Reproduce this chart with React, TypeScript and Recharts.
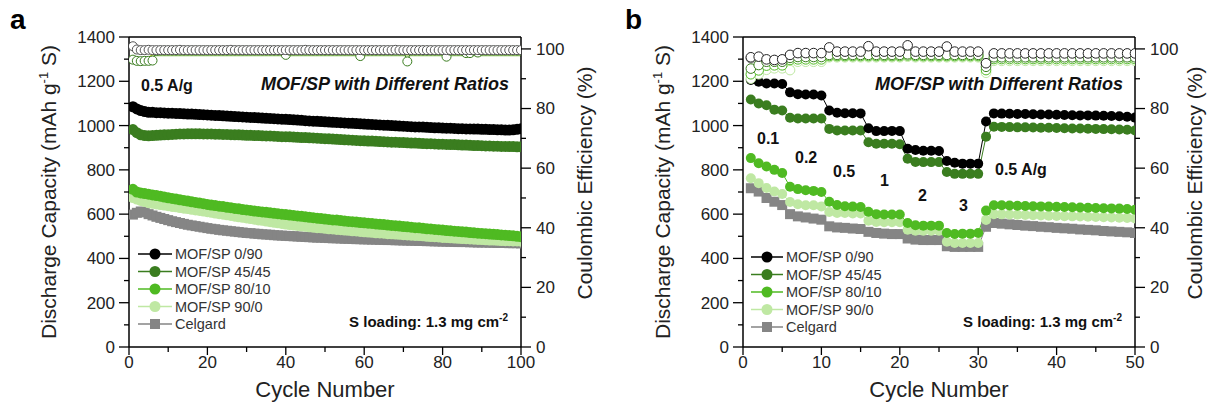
import React from "react";
import { ComposedChart, Line, XAxis, YAxis, Legend, ReferenceLine } from "recharts";

const FONT = '"Liberation Sans", Arial, sans-serif';
const BLACK = "#000000";
const DKGREEN = "#3a7d1f";
const GREEN = "#4fba22";
const LTGREEN = "#bfe8a3";
const GRAY = "#858585";

// ---- panel a: 100 cycles at 0.5 A/g ----
const capA_0_90 = [
  1085, 1075, 1068, 1063, 1060, 1060, 1058, 1058, 1057, 1056,
  1056, 1055, 1054, 1053, 1052, 1052, 1051, 1050, 1049, 1048,
  1047, 1046, 1045, 1044, 1043, 1042, 1041, 1040, 1039, 1038,
  1037, 1036, 1035, 1034, 1033, 1032, 1031, 1030, 1029, 1028,
  1027, 1026, 1025, 1024, 1022, 1021, 1020, 1019, 1018, 1017,
  1016, 1015, 1014, 1013, 1012, 1011, 1010, 1009, 1008, 1007,
  1006, 1005, 1004, 1003, 1002, 1001, 1000, 999, 998, 997,
  996, 995, 994, 994, 993, 992, 991, 990, 990, 989,
  988, 988, 987, 986, 986, 985, 985, 984, 984, 983,
  983, 982, 982, 981, 981, 980, 980, 981, 983, 986,
];
const capA_45_45 = [
  982, 968, 958, 955, 954, 955, 956, 957, 958, 959,
  960, 961, 962, 962, 963, 963, 963, 963, 962, 962,
  962, 961, 961, 960, 960, 959, 958, 958, 957, 956,
  956, 955, 955, 954, 953, 953, 952, 951, 950, 950,
  949, 948, 947, 946, 946, 945, 944, 943, 942, 941,
  940, 939, 938, 937, 936, 935, 934, 933, 932, 931,
  930, 930, 929, 928, 927, 926, 925, 925, 924, 923,
  922, 921, 921, 920, 919, 918, 918, 917, 916, 916,
  915, 914, 914, 913, 912, 912, 911, 910, 910, 909,
  908, 908, 907, 907, 906, 906, 905, 905, 904, 904,
];
const capA_80_10 = [
  712, 700, 696, 693, 690, 687, 684, 681, 677, 674,
  671, 668, 665, 662, 659, 656, 653, 650, 647, 644,
  641, 639, 636, 634, 631, 629, 626, 624, 621, 619,
  617, 614, 612, 610, 608, 606, 604, 602, 600, 598,
  596, 594, 592, 590, 588, 586, 584, 582, 580, 578,
  576, 574, 573, 571, 569, 567, 566, 564, 562, 561,
  559, 558, 556, 554, 553, 551, 549, 548, 546, 544,
  543, 541, 539, 538, 536, 534, 533, 531, 530, 528,
  526, 525, 523, 522, 520, 519, 517, 516, 514, 513,
  512, 510, 509, 508, 506, 505, 503, 502, 500, 498,
];
const capA_90_0 = [
  675, 668, 662, 657, 652, 649, 646, 643, 641, 638,
  635, 633, 630, 627, 625, 622, 619, 617, 614, 611,
  608, 605, 602, 600, 597, 594, 591, 588, 586, 583,
  580, 577, 574, 572, 569, 566, 563, 561, 558, 555,
  553, 551, 549, 547, 545, 543, 541, 539, 538, 536,
  534, 533, 531, 530, 528, 527, 525, 524, 522, 520,
  519, 518, 516, 515, 514, 512, 511, 510, 509, 507,
  506, 505, 504, 503, 502, 500, 499, 498, 497, 495,
  494, 493, 492, 491, 490, 489, 488, 487, 486, 485,
  484, 483, 483, 482, 481, 480, 480, 479, 479, 478,
];
const capA_celgard = [
  598, 606, 612, 608, 600, 594, 588, 583, 578, 573,
  568, 564, 560, 556, 552, 549, 546, 543, 540, 537,
  534, 532, 529, 527, 525, 523, 521, 519, 517, 515,
  514, 512, 511, 509, 508, 507, 505, 504, 503, 502,
  501, 500, 499, 498, 497, 496, 495, 494, 494, 493,
  492, 491, 491, 490, 489, 489, 488, 487, 487, 486,
  486, 485, 485, 484, 484, 483, 483, 482, 482, 481,
  481, 480, 480, 479, 479, 478, 478, 477, 477, 476,
  476, 475, 475, 474, 474, 474, 473, 473, 472, 472,
  472, 471, 471, 470, 470, 470, 469, 469, 469, 468,
];
const ceA_0_90 = [
  100.9, 99.8, 99.6, 99.6, 99.7, 99.6, 99.6, 99.6, 99.6, 99.6,
  99.6, 99.6, 99.7, 99.6, 99.6, 99.6, 99.6, 99.6, 99.6, 99.6,
  99.6, 99.6, 99.6, 99.6, 99.6, 99.7, 99.6, 99.6, 99.6, 99.6,
  99.6, 99.6, 99.6, 99.6, 99.6, 99.6, 99.6, 99.6, 99.6, 99.6,
  99.6, 99.6, 99.6, 99.6, 99.7, 99.6, 99.6, 99.6, 99.6, 99.6,
  99.6, 99.6, 99.6, 99.6, 99.6, 99.6, 99.6, 99.6, 99.6, 99.6,
  99.6, 99.6, 99.6, 99.6, 99.6, 99.6, 99.6, 99.7, 99.6, 99.6,
  99.6, 99.6, 99.6, 99.6, 99.6, 99.6, 99.6, 99.6, 99.6, 99.6,
  99.6, 99.6, 99.6, 99.6, 99.6, 99.6, 99.6, 99.6, 99.6, 99.6,
  99.6, 99.6, 99.6, 99.6, 99.6, 99.6, 99.6, 99.6, 99.6, 99.6,
];
const ceA_45_45 = [
  96.4, 96.0, 95.9, 96.0, 96.0, 96.1, 99.3, 99.4, 99.4, 99.4,
  99.4, 99.4, 99.4, 99.4, 99.4, 99.4, 99.4, 99.4, 99.4, 99.4,
  99.4, 99.4, 99.4, 99.4, 99.4, 99.4, 99.4, 99.4, 99.4, 99.4,
  99.4, 99.4, 99.4, 99.4, 99.4, 99.4, 99.4, 99.4, 99.4, 98.0,
  99.4, 99.4, 99.4, 99.4, 99.4, 99.4, 99.4, 99.4, 99.4, 99.4,
  99.4, 99.4, 99.4, 99.4, 99.4, 99.4, 99.4, 99.4, 97.6, 99.4,
  99.4, 99.4, 99.4, 99.4, 99.4, 99.4, 99.4, 99.4, 99.4, 99.4,
  95.8, 99.4, 99.4, 99.4, 99.4, 99.4, 99.4, 99.4, 99.4, 99.4,
  97.4, 99.4, 99.4, 99.4, 99.4, 98.6, 98.6, 99.4, 98.8, 99.4,
  99.4, 99.4, 99.4, 99.4, 99.4, 99.4, 99.4, 99.4, 99.4, 99.4,
];
const ceA_80_10 = [
  96.9, 96.8, 96.8, 96.9, 97.2, 98.1, 98.1, 98.1, 98.1, 98.1,
  98.1, 98.1, 98.1, 98.1, 98.1, 98.1, 98.1, 98.1, 98.1, 98.1,
  98.1, 98.1, 98.1, 98.1, 98.1, 98.1, 98.1, 98.1, 98.1, 98.1,
  98.1, 98.1, 98.1, 98.1, 98.1, 98.1, 98.1, 98.1, 98.1, 98.1,
  98.1, 98.1, 98.1, 98.1, 98.1, 98.1, 98.1, 98.1, 98.1, 98.1,
  98.1, 98.1, 98.1, 98.1, 98.1, 98.1, 98.1, 98.1, 98.1, 98.1,
  98.1, 98.1, 98.1, 98.1, 98.1, 98.1, 98.1, 98.1, 98.1, 98.1,
  98.1, 98.1, 98.1, 98.1, 98.1, 98.1, 98.1, 98.1, 98.1, 98.1,
  98.1, 98.1, 98.1, 98.1, 98.1, 98.1, 98.1, 98.1, 98.1, 98.1,
  98.1, 98.1, 98.1, 98.1, 98.1, 98.1, 98.1, 98.1, 98.1, 98.1,
];
const ceA_90_0 = [
  96.5, 96.4, 96.5, 96.6, 96.9, 97.7, 97.7, 97.7, 97.7, 97.7,
  97.7, 97.7, 97.7, 97.7, 97.7, 97.7, 97.7, 97.7, 97.7, 97.7,
  97.7, 97.7, 97.7, 97.7, 97.7, 97.7, 97.7, 97.7, 97.7, 97.7,
  97.7, 97.7, 97.7, 97.7, 97.7, 97.7, 97.7, 97.7, 97.7, 97.7,
  97.7, 97.7, 97.7, 97.7, 97.7, 97.7, 97.7, 97.7, 97.7, 97.7,
  97.7, 97.7, 97.7, 97.7, 97.7, 97.7, 97.7, 97.7, 97.7, 97.7,
  97.7, 97.7, 97.7, 97.7, 97.7, 97.7, 97.7, 97.7, 97.7, 97.7,
  97.7, 97.7, 97.7, 97.7, 97.7, 97.7, 97.7, 97.7, 97.7, 97.7,
  97.7, 97.7, 97.7, 97.7, 97.7, 97.7, 97.7, 97.7, 97.7, 97.7,
  97.7, 97.7, 97.7, 97.7, 97.7, 97.7, 97.7, 97.7, 97.7, 97.7,
];
const ceA_celgard = [
  99.0, 99.4, 99.4, 99.4, 99.4, 99.4, 99.4, 99.4, 99.4, 99.4,
  99.4, 99.4, 99.4, 99.4, 99.4, 99.4, 99.4, 99.4, 99.4, 99.4,
  99.4, 99.4, 99.4, 99.4, 99.4, 99.4, 99.4, 99.4, 99.4, 99.4,
  99.4, 99.4, 99.4, 99.4, 99.4, 99.4, 99.4, 99.4, 99.4, 99.4,
  99.4, 99.4, 99.4, 99.4, 99.4, 99.4, 99.4, 99.4, 99.4, 99.4,
  99.4, 99.4, 99.4, 99.4, 99.4, 99.4, 99.4, 99.4, 99.4, 99.4,
  99.4, 99.4, 99.4, 99.4, 99.4, 99.4, 99.4, 99.4, 99.4, 99.4,
  99.4, 99.4, 99.4, 99.4, 99.4, 99.4, 99.4, 99.4, 99.4, 99.4,
  99.4, 99.4, 99.4, 99.4, 99.4, 99.4, 99.4, 99.4, 99.4, 99.4,
  99.4, 99.4, 99.4, 99.4, 99.4, 99.4, 99.4, 99.4, 99.4, 99.4,
];

// ---- panel b: rate test, 5 cycles each at 0.1/0.2/0.5/1/2/3 then 0.5 A/g ----
const capB_0_90 = [
  1206, 1198, 1190, 1190, 1188, 1150, 1142, 1140, 1140, 1136,
  1068, 1058, 1056, 1056, 1055, 988, 975, 975, 976, 975,
  895, 890, 886, 886, 885, 840, 832, 828, 828, 828,
  1018, 1055, 1054, 1053, 1052, 1052, 1051, 1050, 1050, 1049,
  1048, 1047, 1046, 1046, 1045, 1044, 1043, 1042, 1040, 1036,
];
const capB_45_45 = [
  1118, 1100, 1092, 1072, 1068, 1035, 1032, 1032, 1032, 1032,
  985, 978, 978, 978, 978, 925, 918, 918, 918, 916,
  850, 836, 835, 835, 835, 790, 782, 782, 782, 782,
  950, 995, 994, 993, 992, 992, 991, 990, 990, 989,
  988, 987, 987, 986, 985, 984, 983, 982, 981, 978,
];
const capB_80_10 = [
  853, 830, 815, 800, 786, 724, 713, 708, 705, 700,
  656, 641, 636, 634, 632, 611, 600, 598, 598, 598,
  560, 550, 548, 548, 548, 515, 510, 512, 512, 515,
  616, 640, 640, 639, 638, 637, 636, 635, 634, 633,
  632, 631, 630, 629, 628, 627, 626, 625, 623, 620,
];
const capB_90_0 = [
  762, 740, 718, 702, 691, 655, 645, 640, 640, 635,
  610, 605, 605, 603, 603, 570, 565, 563, 563, 563,
  530, 525, 525, 525, 525, 475, 470, 470, 470, 470,
  574, 600, 599, 598, 597, 596, 595, 594, 593, 592,
  591, 590, 589, 588, 587, 586, 585, 584, 583, 580,
];
const capB_celgard = [
  717, 702, 673, 656, 641, 600, 590, 585, 580, 575,
  545, 540, 538, 535, 533, 520, 515, 512, 510, 510,
  490, 485, 483, 483, 483, 455, 452, 452, 452, 452,
  543, 560, 557, 554, 551, 548, 546, 543, 541, 538,
  536, 534, 531, 529, 527, 524, 522, 520, 518, 515,
];
const ceB_0_90 = [
  97.2, 97.4, 96.5, 96.3, 96.5, 98.0, 98.6, 98.6, 98.6, 98.6,
  100.5, 99.1, 99.1, 99.1, 99.1, 100.9, 99.1, 99.1, 99.1, 99.1,
  101.2, 99.1, 99.1, 99.1, 99.1, 100.8, 99.1, 99.1, 99.1, 99.1,
  95.2, 98.5, 98.5, 98.5, 98.5, 98.5, 98.5, 98.5, 98.5, 98.5,
  98.5, 98.5, 98.5, 98.5, 98.5, 98.5, 98.5, 98.5, 98.5, 98.5,
];
const ceB_45_45 = [
  93.4, 94.6, 95.7, 95.7, 95.7, 97.0, 97.3, 97.3, 97.3, 97.3,
  98.0, 98.0, 98.0, 98.0, 98.0, 98.0, 98.0, 98.0, 98.0, 98.0,
  98.2, 98.0, 98.0, 98.0, 98.0, 98.0, 98.0, 98.0, 98.0, 98.0,
  94.0, 97.2, 97.2, 97.2, 97.2, 97.2, 97.2, 97.2, 97.2, 97.2,
  97.2, 97.2, 97.2, 97.2, 97.2, 97.2, 97.2, 97.2, 97.2, 97.2,
];
const ceB_80_10 = [
  91.5, 92.8, 94.4, 94.5, 94.5, 96.3, 96.5, 96.5, 96.5, 96.5,
  97.6, 97.6, 97.6, 97.6, 97.6, 97.6, 97.6, 97.6, 97.6, 97.6,
  97.8, 97.6, 97.6, 97.6, 97.6, 97.6, 97.6, 97.6, 97.6, 97.6,
  92.9, 96.6, 96.6, 96.6, 96.6, 96.6, 96.6, 96.6, 96.6, 96.6,
  96.6, 96.6, 96.6, 96.6, 96.6, 96.6, 96.6, 96.6, 96.6, 96.6,
];
const ceB_90_0 = [
  90.0, 91.5, 93.0, 93.5, 93.5, 92.9, 95.7, 95.7, 95.7, 95.7,
  97.2, 97.2, 97.2, 97.2, 97.2, 97.2, 97.2, 97.2, 97.2, 97.2,
  97.4, 97.2, 97.2, 97.2, 97.2, 97.2, 97.2, 97.2, 97.2, 97.2,
  92.0, 96.0, 96.0, 96.0, 96.0, 96.0, 96.0, 96.0, 96.0, 96.0,
  96.0, 96.0, 96.0, 96.0, 96.0, 96.0, 96.0, 96.0, 96.0, 96.0,
];
const ceB_celgard = [
  96.9, 97.1, 96.2, 96.0, 96.2, 97.8, 98.3, 98.3, 98.3, 98.3,
  99.0, 98.8, 98.8, 98.8, 98.8, 99.0, 98.8, 98.8, 98.8, 98.8,
  99.0, 98.8, 98.8, 98.8, 98.8, 99.0, 98.8, 98.8, 98.8, 98.8,
  95.0, 98.2, 98.2, 98.2, 98.2, 98.2, 98.2, 98.2, 98.2, 98.2,
  98.2, 98.2, 98.2, 98.2, 98.2, 98.2, 98.2, 98.2, 98.2, 98.2,
];

const xTicksA = [0, 10, 20, 30, 40, 50, 60, 70, 80, 90, 100];
const xTicksB = [0, 5, 10, 15, 20, 25, 30, 35, 40, 45, 50];
const capTicks = [0, 100, 200, 300, 400, 500, 600, 700, 800, 900, 1000, 1100, 1200, 1300, 1400];
const ceTicks = [0, 10, 20, 30, 40, 50, 60, 70, 80, 90, 100];

const SERIES = [
  { name: "MOF/SP 0/90", color: BLACK, square: false },
  { name: "MOF/SP 45/45", color: DKGREEN, square: false },
  { name: "MOF/SP 80/10", color: GREEN, square: false },
  { name: "MOF/SP 90/0", color: LTGREEN, square: false },
  { name: "Celgard", color: GRAY, square: true },
];

const rowsA = capA_0_90.map((_, i) => ({
  cycle: i + 1,
  c0: capA_0_90[i], c45: capA_45_45[i], c80: capA_80_10[i], c90: capA_90_0[i], cCel: capA_celgard[i],
  e0: ceA_0_90[i], e45: ceA_45_45[i], e80: ceA_80_10[i], e90: ceA_90_0[i], eCel: ceA_celgard[i],
}));
const rowsB = capB_0_90.map((_, i) => ({
  cycle: i + 1,
  c0: capB_0_90[i], c45: capB_45_45[i], c80: capB_80_10[i], c90: capB_90_0[i], cCel: capB_celgard[i],
  e0: ceB_0_90[i], e45: ceB_45_45[i], e80: ceB_80_10[i], e90: ceB_90_0[i], eCel: ceB_celgard[i],
}));

const squareDot = (size: number, color: string) => (props: any) => {
  const { cx, cy, index } = props;
  if (cx == null || cy == null) return <g key={`sq-${index}`} />;
  return <rect key={`sq-${index}`} x={cx - size / 2} y={cy - size / 2} width={size} height={size} fill={color} />;
};

const bottomTick = (every: number) => (props: any) => {
  const { x, y, payload } = props;
  const major = payload.value % every === 0;
  return (
    <g>
      <line x1={x} x2={x} y1={y} y2={y + (major ? 8 : 5)} stroke="#000" strokeWidth={1.3} />
      {major && (
        <text x={x} y={y + 21} textAnchor="middle" fontSize={17} fontFamily={FONT} fill="#222">
          {payload.value}
        </text>
      )}
    </g>
  );
};

const leftTick = (props: any) => {
  const { x, y, payload } = props;
  const major = payload.value % 200 === 0;
  return (
    <g>
      <line x1={x - (major ? 10 : 5)} x2={x} y1={y} y2={y} stroke="#000" strokeWidth={1.3} />
      {major && (
        <text x={x - 14} y={y} dy="0.35em" textAnchor="end" fontSize={17} fontFamily={FONT} fill="#222">
          {payload.value}
        </text>
      )}
    </g>
  );
};

const rightTick = (props: any) => {
  const { x, y, payload } = props;
  const major = payload.value % 20 === 0;
  return (
    <g>
      <line x1={x} x2={x + (major ? 10 : 5)} y1={y} y2={y} stroke="#000" strokeWidth={1.3} />
      {major && (
        <text x={x + 15} y={y} dy="0.35em" textAnchor="start" fontSize={17} fontFamily={FONT} fill="#222">
          {payload.value}
        </text>
      )}
    </g>
  );
};

const legendContent = (lineW: number) => () => (
  <svg width={170} height={92} style={{ display: "block", overflow: "visible" }}>
    {SERIES.map((s, i) => {
      const cy = 10 + i * 17.5;
      const mx = 2 + lineW / 2;
      return (
        <g key={s.name}>
          <line x1={2} x2={2 + lineW} y1={cy} y2={cy} stroke={s.color} strokeWidth={1.5} />
          {s.square ? (
            <rect x={mx - 5} y={cy - 5} width={10} height={10} fill={s.color} />
          ) : (
            <circle cx={mx} cy={cy} r={5.5} fill={s.color} />
          )}
          <text x={lineW + 5} y={cy} dy="0.35em" fontSize={14.5} fontFamily={FONT} fill="#333">
            {s.name}
          </text>
        </g>
      );
    })}
  </svg>
);

const capLines = (r: number, sq: number) => [
  <Line key="cCel" yAxisId="cap" dataKey="cCel" stroke={GRAY} strokeWidth={1} dot={squareDot(sq, GRAY)} activeDot={false} isAnimationActive={false} />,
  <Line key="c90" yAxisId="cap" dataKey="c90" stroke={LTGREEN} strokeWidth={1} dot={{ r, fill: LTGREEN, stroke: LTGREEN, strokeWidth: 0 }} activeDot={false} isAnimationActive={false} />,
  <Line key="c80" yAxisId="cap" dataKey="c80" stroke={GREEN} strokeWidth={1} dot={{ r, fill: GREEN, stroke: GREEN, strokeWidth: 0 }} activeDot={false} isAnimationActive={false} />,
  <Line key="c45" yAxisId="cap" dataKey="c45" stroke={DKGREEN} strokeWidth={1} dot={{ r, fill: DKGREEN, stroke: DKGREEN, strokeWidth: 0 }} activeDot={false} isAnimationActive={false} />,
  <Line key="c0" yAxisId="cap" dataKey="c0" stroke={BLACK} strokeWidth={1} dot={{ r, fill: BLACK, stroke: BLACK, strokeWidth: 0 }} activeDot={false} isAnimationActive={false} />,
];

const openDot = (r: number, color: string) => ({ r, fill: "#fff", stroke: color, strokeWidth: 1 });

const ceLinesA = [
  <Line key="eCel" yAxisId="ce" dataKey="eCel" stroke={GRAY} strokeWidth={1} dot={false} activeDot={false} isAnimationActive={false} />,
  <Line key="e90" yAxisId="ce" dataKey="e90" stroke={LTGREEN} strokeWidth={1.2} dot={false} activeDot={false} isAnimationActive={false} />,
  <Line key="e80" yAxisId="ce" dataKey="e80" stroke="#a9c21a" strokeWidth={1.2} dot={false} activeDot={false} isAnimationActive={false} />,
  <Line key="e45" yAxisId="ce" dataKey="e45" stroke={DKGREEN} strokeWidth={1} dot={openDot(4.5, DKGREEN)} activeDot={false} isAnimationActive={false} />,
  <Line key="e0" yAxisId="ce" dataKey="e0" stroke="#555" strokeWidth={1} dot={openDot(4.5, "#555")} activeDot={false} isAnimationActive={false} />,
];

const ceLinesB = [
  <Line key="eCel" yAxisId="ce" dataKey="eCel" stroke={GRAY} strokeWidth={1} dot={openDot(4.8, GRAY)} activeDot={false} isAnimationActive={false} />,
  <Line key="e90" yAxisId="ce" dataKey="e90" stroke={LTGREEN} strokeWidth={1} dot={openDot(4.8, LTGREEN)} activeDot={false} isAnimationActive={false} />,
  <Line key="e80" yAxisId="ce" dataKey="e80" stroke={GREEN} strokeWidth={1} dot={openDot(4.8, GREEN)} activeDot={false} isAnimationActive={false} />,
  <Line key="e45" yAxisId="ce" dataKey="e45" stroke={DKGREEN} strokeWidth={1} dot={openDot(4.8, DKGREEN)} activeDot={false} isAnimationActive={false} />,
  <Line key="e0" yAxisId="ce" dataKey="e0" stroke="#222" strokeWidth={1} dot={openDot(4.8, "#222")} activeDot={false} isAnimationActive={false} />,
];

const PLOT_R = 521;

function Panel(props: {
  left: number; width: number; rows: any[]; xMax: number; xTicks: number[]; every: number;
  dotR: number; sq: number; ce: any[]; legendLeft: number; legendTop: number; lineW: number;
  letter: string; letterX: number; rightLabelX: number; children?: React.ReactNode;
}) {
  const { left, width } = props;
  return (
    <div style={{ position: "absolute", left, top: 0, width, height: 406 }}>
      <ComposedChart width={width} height={406} data={props.rows} margin={{ top: 37, right: 0, bottom: 0, left: 0 }}>
        <XAxis
          dataKey="cycle" type="number" domain={[0, props.xMax]} ticks={props.xTicks} interval={0}
          height={59} tickSize={0} tickMargin={0} tick={bottomTick(props.every)}
          axisLine={{ stroke: "#000", strokeWidth: 1.5 }} allowDataOverflow
        />
        <YAxis
          yAxisId="cap" domain={[0, 1400]} ticks={capTicks} interval={0} width={129}
          tickSize={0} tickMargin={0} tick={leftTick} axisLine={{ stroke: "#000", strokeWidth: 1.5 }} allowDataOverflow
        />
        <YAxis
          yAxisId="ce" orientation="right" domain={[0, 104]} ticks={ceTicks} interval={0} width={width - PLOT_R}
          tickSize={0} tickMargin={0} tick={rightTick} axisLine={{ stroke: "#000", strokeWidth: 1.5 }} allowDataOverflow
        />
        <ReferenceLine yAxisId="cap" y={1400} stroke="#000" strokeWidth={1.5} />
        {capLines(props.dotR, props.sq)}
        {props.ce}
        <Legend
          layout="vertical" align="center" verticalAlign="middle"
          wrapperStyle={{ left: props.legendLeft, top: props.legendTop, width: 170 }}
          content={legendContent(props.lineW)}
        />
      </ComposedChart>
      <svg width={width} height={406} style={{ position: "absolute", left: 0, top: 0, pointerEvents: "none" }} fontFamily={FONT}>
        <text x={props.letterX} y={29} fontSize={28} fontWeight="bold" fill="#000">{props.letter}</text>
        <text transform="translate(49,192) rotate(-90)" textAnchor="middle" dy="0.35em" fontSize={21} fill="#222">
          Discharge Capacity (mAh g<tspan dy={-8} fontSize={13}>-1</tspan><tspan dy={8}> S)</tspan>
        </text>
        <text transform={`translate(${props.rightLabelX},183) rotate(-90)`} textAnchor="middle" dy="0.35em" fontSize={21} fill="#222">
          Coulombic Efficiency (%)
        </text>
        <text x={325} y={389} dy="0.35em" textAnchor="middle" fontSize={22} fill="#222">Cycle Number</text>
        <text x={509} y={84} dy="0.35em" textAnchor="end" fontSize={18} fontWeight="bold" fontStyle="italic" fill="#111">
          MOF/SP with Different Ratios
        </text>
        <text x={508} y={322} dy="0.35em" textAnchor="end" fontSize={15} fontWeight="bold" fill="#111">
          S loading: 1.3 mg cm<tspan dy={-6} fontSize={10}>-2</tspan>
        </text>
        {props.children}
      </svg>
    </div>
  );
}

const rateLabel = (x: number, y: number, t: string) => (
  <text key={t + x} x={x} y={y} dy="0.35em" fontSize={16} fontWeight="bold" fill="#111">{t}</text>
);

export default function App() {
  return (
    <div style={{ position: "absolute", left: 0, top: 0, width: 1210, height: 406, background: "#fff", overflow: "hidden" }}>
      <Panel
        left={0} width={610} rows={rowsA} xMax={100} xTicks={xTicksA} every={20}
        dotR={5.5} sq={10} ce={ceLinesA} legendLeft={136} legendTop={244} lineW={34}
        letter="a" letterX={10} rightLabelX={585}
      >
        {rateLabel(141, 85, "0.5 A/g")}
      </Panel>
      <Panel
        left={614} width={596} rows={rowsB} xMax={50} xTicks={xTicksB} every={10}
        dotR={5} sq={10} ce={ceLinesB} legendLeft={135} legendTop={247} lineW={32}
        letter="b" letterX={11} rightLabelX={581}
      >
        {rateLabel(143, 138, "0.1")}
        {rateLabel(181, 157, "0.2")}
        {rateLabel(219, 171, "0.5")}
        {rateLabel(266, 180, "1")}
        {rateLabel(304, 195, "2")}
        {rateLabel(345, 205, "3")}
        {rateLabel(381, 169, "0.5 A/g")}
      </Panel>
    </div>
  );
}
